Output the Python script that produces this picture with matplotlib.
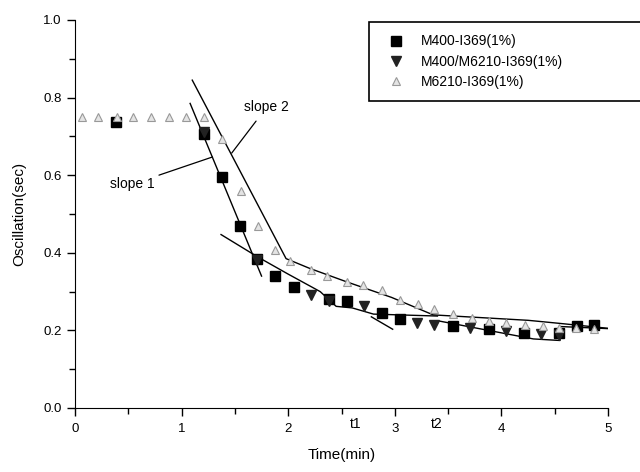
import numpy as np
import matplotlib
matplotlib.use('Agg')
import matplotlib.pyplot as plt

plt.rcParams['font.family'] = ['Liberation Sans', 'DejaVu Sans']

# series
x_m400 = [0.38, 1.21, 1.38, 1.55, 1.71, 1.88, 2.05, 2.38, 2.55, 2.88, 3.05, 3.55, 3.88, 4.21, 4.54, 4.71, 4.87]
y_m400 = [0.738, 0.707, 0.596, 0.468, 0.385, 0.339, 0.311, 0.280, 0.275, 0.245, 0.229, 0.211, 0.204, 0.194, 0.194, 0.211, 0.213]

x_blend = [1.21, 1.71, 2.21, 2.38, 2.71, 3.21, 3.37, 3.71, 4.04, 4.37, 4.54]
y_blend = [0.712, 0.382, 0.292, 0.276, 0.262, 0.219, 0.215, 0.205, 0.199, 0.190, 0.188]

x_m6210 = [0.065, 0.22, 0.39, 0.545, 0.71, 0.88, 1.04, 1.21, 1.38, 1.56, 1.72, 1.88, 2.02, 2.21, 2.36,
           2.55, 2.70, 2.88, 3.05, 3.22, 3.37, 3.55, 3.72, 3.88, 4.04, 4.22, 4.39, 4.54, 4.70, 4.87]
y_m6210 = [0.75, 0.75, 0.75, 0.75, 0.75, 0.75, 0.75, 0.75, 0.694, 0.56, 0.468, 0.408, 0.378, 0.356, 0.339,
           0.326, 0.318, 0.305, 0.279, 0.267, 0.254, 0.241, 0.232, 0.224, 0.220, 0.215, 0.211, 0.207, 0.207, 0.203]

# hand drawn fit lines
slope1_x = [1.08, 1.75]
slope1_y = [0.785, 0.34]
upper_x = [1.10, 1.98, 2.2, 2.55, 2.97, 3.36, 4.25, 4.55, 5.05]
upper_y = [0.845, 0.385, 0.36, 0.325, 0.285, 0.24, 0.226, 0.218, 0.204]
lower_x = [1.37, 1.71, 2.0, 2.3, 2.45, 2.6, 2.8, 3.4]
lower_y = [0.447, 0.39, 0.345, 0.30, 0.262, 0.258, 0.242, 0.237]
tail_x = [3.4, 4.3, 4.55, 4.55, 5.05]
tail_y = [0.225, 0.178, 0.174, 0.21, 0.204]
tangent_x = [2.78, 2.98]
tangent_y = [0.235, 0.203]

labels = ['M400-I369(1%)', 'M400/M6210-I369(1%)', 'M6210-I369(1%)']
t_marks = [2.63, 3.39]
t_labels = ['t1', 't2']

fig = plt.figure(figsize=(6.4, 4.72), dpi=100)
ax = fig.add_axes([75 / 640, 64 / 472, 533 / 640, 388 / 472])

for lx, ly in [(slope1_x, slope1_y), (upper_x, upper_y), (lower_x, lower_y),
               (tail_x, tail_y), (tangent_x, tangent_y)]:
    ax.plot(lx, ly, color='black', lw=1.0, zorder=2)

ax.plot(x_m400, y_m400, ls='none', marker='s', ms=7, color='black', label=labels[0], zorder=3)
ax.plot(x_blend, y_blend, ls='none', marker='v', ms=7, color='#222222', label=labels[1], zorder=3)
ax.plot(x_m6210, y_m6210, ls='none', marker='^', ms=5.5, mfc='#e4e4e4', mec='#999999', mew=0.8,
        label=labels[2], zorder=4)

# annotations
ax.annotate('slope 1', xy=(1.29, 0.647), xytext=(0.54, 0.577), fontsize=10,
            ha='center', va='center',
            arrowprops=dict(arrowstyle='-', color='black', lw=0.9, shrinkA=1, shrinkB=0))
ax.annotate('slope 2', xy=(1.47, 0.657), xytext=(1.80, 0.776), fontsize=10,
            ha='center', va='center',
            arrowprops=dict(arrowstyle='-', color='black', lw=0.9, shrinkA=4, shrinkB=0))

for tx, tl in zip(t_marks, t_labels):
    ax.text(tx, -0.022, tl, fontsize=10, ha='center', va='top')

ax.set_xlim(0, 5)
ax.set_ylim(0, 1.0)
ax.set_xticks(np.arange(0, 5.01, 1))
ax.set_xticks(np.arange(0.5, 5, 1), minor=True)
ax.set_yticks(np.arange(0, 1.01, 0.2))
ax.set_yticks(np.arange(0.1, 1.0, 0.2), minor=True)
ax.yaxis.set_major_formatter(matplotlib.ticker.FormatStrFormatter('%.1f'))
ax.tick_params(which='major', length=6, width=1, labelsize=9.5, direction='out')
ax.tick_params(which='minor', length=4, width=1, direction='out')
ax.tick_params(axis='x', pad=5)
for s in ['top', 'right']:
    ax.spines[s].set_visible(False)
ax.set_xlabel('Time(min)', fontsize=11, labelpad=9)
ax.set_ylabel('Oscillation(sec)', fontsize=11, labelpad=12)

leg = ax.legend(loc='upper left', bbox_to_anchor=(2.76 / 5, 0.78, 0.62, 0.215), mode='expand',
                fontsize=10, fancybox=False, edgecolor='black', framealpha=1, borderpad=0.9,
                handletextpad=0.8, labelspacing=0.45, borderaxespad=0)
leg.get_frame().set_linewidth(1.2)

fig.savefig('out.png', dpi=100)
